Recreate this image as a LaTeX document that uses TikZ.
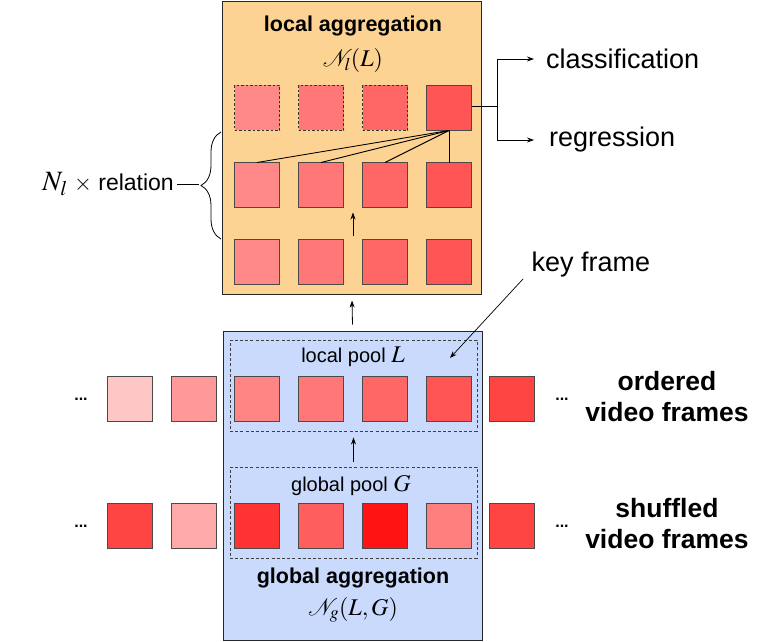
\documentclass[tikz,border=0pt]{standalone}
\usepackage{mathptmx}
\usepackage{fontspec}
\setmainfont{Liberation Sans}
\usetikzlibrary{calc,decorations.pathreplacing,arrows.meta}
\definecolor{orbox}{HTML}{FDD394}
\definecolor{blbox}{HTML}{C9DAFC}
\definecolor{edgegray}{HTML}{4A4A4A}
\begin{document}
\begin{tikzpicture}[x=1pt,y=-1pt,
  sq/.style={draw=edgegray,line width=1.1pt,minimum size=45pt,inner sep=0pt,outer sep=0pt},
  dsq/.style={sq,dashed,dash pattern=on 2.5pt off 2pt,draw=black!80},
  bigbox/.style={draw=black!85,line width=1pt,inner sep=0pt},
  poolbox/.style={draw=black!75,line width=0.9pt,dash pattern=on 3pt off 2.2pt,inner sep=0pt},
  lab/.style={font=\fontsize{27}{32}\selectfont,inner sep=0pt},
  blab/.style={font=\fontsize{26.5}{31}\selectfont\bfseries,align=center,inner sep=0pt},
  agg/.style={font=\fontsize{21.5}{25}\selectfont\bfseries,inner sep=0pt},
  mth/.style={font=\fontsize{24}{28}\selectfont,inner sep=0pt},
  pool/.style={font=\fontsize{20}{24}\selectfont,inner sep=0pt},
  dots/.style={font=\fontsize{16}{18}\selectfont\bfseries,inner sep=0pt},
  arr/.style={-{Stealth[length=7pt,width=5pt]},line width=0.8pt},
  thin/.style={line width=0.9pt}
]
\useasboundingbox (0,0) rectangle (764,642);

% boxes
\node[bigbox,fill=orbox,minimum width=259pt,minimum height=292pt] (lbox) at (352,148) {};
\node[bigbox,fill=blbox,minimum width=259pt,minimum height=309pt] (gbox) at (352.5,485.5) {};
\node[poolbox,minimum width=247pt,minimum height=91pt] (lpool) at (353.5,385.5) {};
\node[poolbox,minimum width=247pt,minimum height=91pt] (gpool) at (353.5,512.5) {};

% titles
\node[agg] (ltitle) at (353,26) {local aggregation};
\node[mth] (lmath) at (353,61) {$\mathcal{N}_l(L)$};
\node[agg] (gtitle) at (353,578) {global aggregation};
\node[mth] (gmath) at (353,610) {$\mathcal{N}_g(L,G)$};
\node[pool] (lpl) at (353,357) {local pool {\fontsize{24}{28}\selectfont$L$}};
\node[pool] (gpl) at (351,486) {global pool {\fontsize{24}{28}\selectfont$G$}};

% local aggregation grid
\node[dsq,fill={rgb,255:red,255;green,136;blue,136}] (o11) at (257,108) {};
\node[dsq,fill={rgb,255:red,255;green,119;blue,119}] (o12) at (321,108) {};
\node[dsq,fill={rgb,255:red,255;green,102;blue,102}] (o13) at (385,108) {};
\node[sq,fill={rgb,255:red,255;green,85;blue,85}] (o14) at (449,108) {};
\node[sq,fill={rgb,255:red,255;green,136;blue,136}] (o21) at (257,185) {};
\node[sq,fill={rgb,255:red,255;green,119;blue,119}] (o22) at (321,185) {};
\node[sq,fill={rgb,255:red,255;green,102;blue,102}] (o23) at (385,185) {};
\node[sq,fill={rgb,255:red,255;green,85;blue,85}] (o24) at (449,185) {};
\node[sq,fill={rgb,255:red,255;green,136;blue,136}] (o31) at (257,262) {};
\node[sq,fill={rgb,255:red,255;green,119;blue,119}] (o32) at (321,262) {};
\node[sq,fill={rgb,255:red,255;green,102;blue,102}] (o33) at (385,262) {};
\node[sq,fill={rgb,255:red,255;green,85;blue,85}] (o34) at (449,262) {};

\draw[thin] (o14.south) -- (o21.north);
\draw[thin] (o14.south) -- (o22.north);
\draw[thin] (o14.south) -- (o23.north);
\draw[thin] (o14.south) -- (o24.north);

\coordinate (ua) at ($(o32.north)!0.5!(o33.north)+(0,-4)$);
\coordinate (ub) at ($(o22.south)!0.5!(o23.south)+(0,5)$);
\draw[arr] (ua) -- (ub);

% ordered frames
\node[sq,fill={rgb,255:red,255;green,198;blue,198}] (a1) at (130,399) {};
\node[sq,fill={rgb,255:red,255;green,153;blue,153}] (a2) at (194,399) {};
\node[sq,fill={rgb,255:red,255;green,133;blue,133}] (a3) at (257,399) {};
\node[sq,fill={rgb,255:red,255;green,119;blue,119}] (a4) at (321,399) {};
\node[sq,fill={rgb,255:red,255;green,102;blue,102}] (a5) at (385,399) {};
\node[sq,fill={rgb,255:red,255;green,85;blue,85}] (a6) at (449,399) {};
\node[sq,fill={rgb,255:red,255;green,68;blue,68}] (a7) at (512,399) {};

% shuffled frames
\node[sq,fill={rgb,255:red,255;green,68;blue,68}] (b1) at (130,526) {};
\node[sq,fill={rgb,255:red,255;green,170;blue,170}] (b2) at (194,526) {};
\node[sq,fill={rgb,255:red,255;green,51;blue,51}] (b3) at (257,526) {};
\node[sq,fill={rgb,255:red,255;green,94;blue,94}] (b4) at (321,526) {};
\node[sq,fill={rgb,255:red,255;green,19;blue,19}] (b5) at (385,526) {};
\node[sq,fill={rgb,255:red,255;green,127;blue,127}] (b6) at (449,526) {};
\node[sq,fill={rgb,255:red,255;green,68;blue,68}] (b7) at (512,526) {};

% dots
\node[dots] (dl1) at (81,399) {...};
\node[dots] (dr1) at (562,399) {...};
\node[dots] (dl2) at (81,526) {...};
\node[dots] (dr2) at (562,526) {...};

% right labels
\node[blab] (ord) at (667,397) {ordered\\video frames};
\node[blab] (shf) at (667,524) {shuffled\\video frames};

% arrows between pools and boxes
\draw[arr] ([yshift=5pt]gpool.north) -- ([yshift=-6pt]lpool.south);
\draw[arr] ([yshift=6pt]gbox.north) -- ([yshift=-6pt]lbox.south);

% outputs
\node[lab,anchor=west] (cls) at (546,59) {classification};
\node[lab,anchor=west] (reg) at (549,140) {regression};
\coordinate (split) at (497,106);
\draw[thin] (o14.east |- split) -- (split);
\draw[arr] (split) |- ([xshift=-12pt]cls.west);
\draw[arr] (split) |- ([xshift=-15pt]reg.west);

% key frame
\node[lab] (kf) at (591,265) {key frame};
\coordinate (kt) at (450,358);
\draw[arr,line width=0.7pt] (523,279) -- (kt);

% brace
\node[font=\fontsize{23}{27}\selectfont,inner sep=0pt,anchor=east] (rel) at (174,184) {{\fontsize{28}{32}\selectfont$N_l$} $\times$ relation};
\draw[line width=0.8pt,decorate,decoration={brace,amplitude=20pt}] (221,239) -- (221,132) coordinate[midway] (bm);
\draw[line width=0.8pt] (rel.east) ++(3pt,0) -- (199,184);
\end{tikzpicture}
\end{document}
